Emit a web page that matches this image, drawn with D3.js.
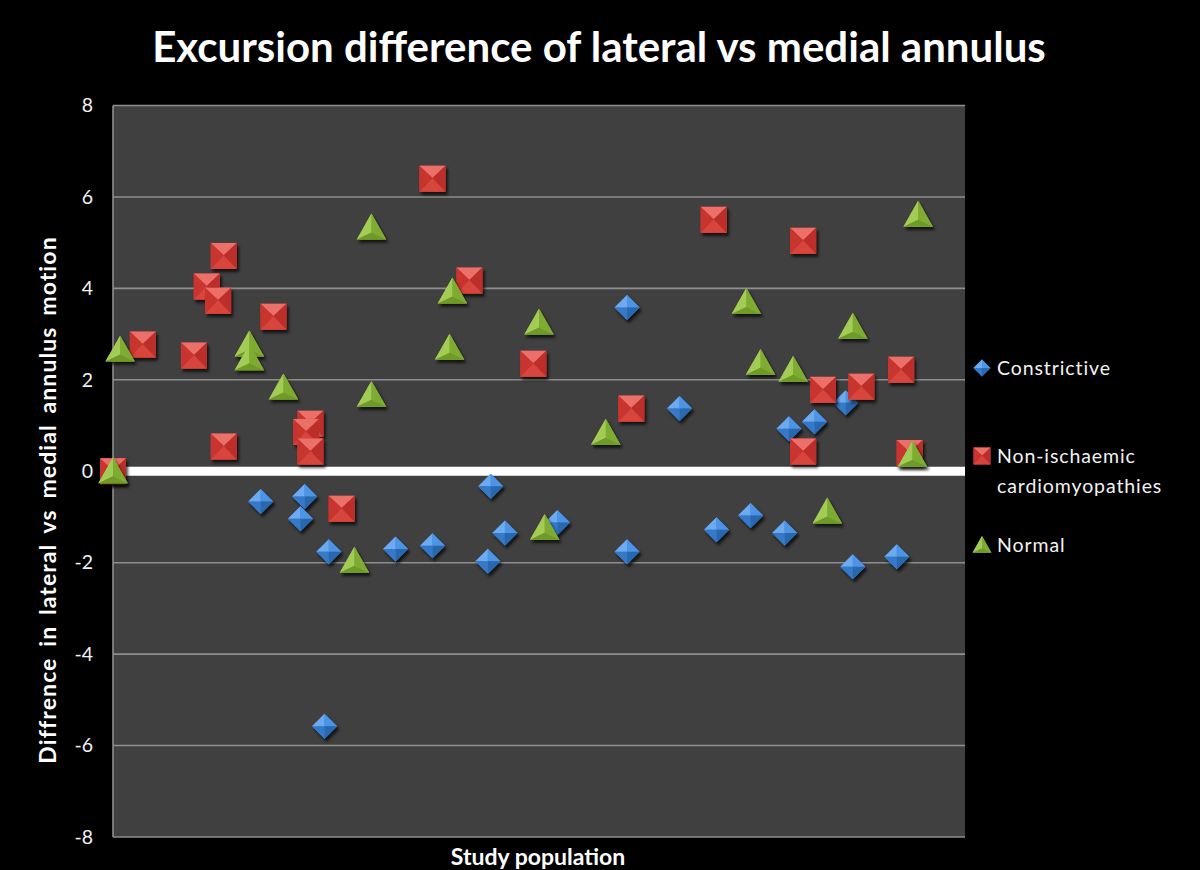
<!DOCTYPE html>
<html><head><meta charset="utf-8">
<script src="https://cdn.jsdelivr.net/npm/d3@7/dist/d3.min.js"></script>
<style>
html,body{margin:0;padding:0;background:#000;}
svg{display:block;}
</style></head>
<body>
<svg id="chart" width="1200" height="870"></svg>
<script>
// ---- Data (study population index, difference value) ----
const seriesNames = ["Constrictive", "Non-ischaemic cardiomyopathies", "Normal"];
const constrictiveX = [10.4,13.5,13.2,15.2,14.9,19.9,22.5,26.6,27.6,26.4,31.3,36.2,39.9,36.2,42.5,44.9,47.3,52.1,55.2,47.6,49.4,51.6];
const constrictiveY = [-0.66,-0.55,-1.04,-1.76,-5.58,-1.70,-1.63,-0.33,-1.35,-1.97,-1.12,3.58,1.37,-1.76,-1.28,-0.97,-1.35,-2.09,-1.87,0.93,1.08,1.50];
const nonIschX = [0,2.1,5.7,6.6,7.4,7.8,7.8,11.3,13.9,13.6,13.9,16.1,22.5,25.1,29.6,36.5,42.3,48.6,50.0,52.7,55.5,48.6,56.1];
const nonIschY = [0.0,2.77,2.53,4.04,3.73,4.71,0.54,3.38,1.04,0.86,0.43,-0.82,6.40,4.17,2.35,1.37,5.50,5.04,1.78,1.85,2.22,0.43,0.40];
const normalX = [0,0.5,9.6,9.6,12.0,18.2,18.2,17.0,23.9,23.7,30.0,30.4,34.7,44.6,45.6,47.9,52.1,50.3,56.7,56.3];
const normalY = [0.0,2.66,2.77,2.47,1.83,5.33,1.67,-1.96,3.93,2.70,3.25,-1.24,0.84,3.70,2.37,2.22,3.16,-0.88,5.61,0.36];
const yTicks = [-8,-6,-4,-2,0,2,4,6,8];
const titleText = "Excursion difference of lateral vs medial annulus";
const yTitle = "Diffrence in lateral vs medial annulus motion";
const xTitle = "Study population";

// ---- Layout ----
const svg = d3.select("#chart");
const plot = {left:113, right:965, top:105.5, bottom:837};
const x = d3.scaleLinear().domain([0,60]).range([plot.left, plot.right]);
const y = d3.scaleLinear().domain([-8,8]).range([plot.bottom, plot.top]);
const FONT = "Lato, 'Open Sans', 'Liberation Sans', sans-serif";

const defs = svg.append("defs");
const f = defs.append("filter").attr("id","shadow").attr("x","-50%").attr("y","-50%").attr("width","200%").attr("height","200%");
f.append("feDropShadow").attr("dx",2).attr("dy",3).attr("stdDeviation",1.8).attr("flood-color","#000").attr("flood-opacity",0.7);

svg.append("rect").attr("width",1200).attr("height",870).attr("fill","#000");

// plot area
svg.append("rect").attr("x",plot.left).attr("y",plot.top)
  .attr("width",plot.right-plot.left).attr("height",plot.bottom-plot.top)
  .attr("fill","#404040");

// gridlines
svg.append("g").selectAll("line").data(yTicks.filter(d=>d!==0)).join("line")
  .attr("x1",plot.left).attr("x2",plot.right)
  .attr("y1",d=>y(d)).attr("y2",d=>y(d))
  .attr("stroke","#8e8e8e").attr("stroke-width",1.6);

// left axis line
svg.append("line").attr("x1",plot.left).attr("x2",plot.left)
  .attr("y1",plot.top).attr("y2",plot.bottom)
  .attr("stroke","#8e8e8e").attr("stroke-width",1.6);

// zero line (horizontal axis)
svg.append("line").attr("x1",plot.left).attr("x2",plot.right)
  .attr("y1",y(0)).attr("y2",y(0))
  .attr("stroke","#ffffff").attr("stroke-width",9);

// y axis tick labels via d3 axis
const yAxis = d3.axisLeft(y).tickValues(yTicks).tickSize(0).tickPadding(0).tickFormat(d=>String(d));
const ga = svg.append("g").attr("transform",`translate(${plot.left-20},0)`).call(yAxis);
ga.select(".domain").remove();
ga.selectAll("text").attr("fill","#f2f2f2").attr("font-family",FONT).attr("font-size",19.5);

// title
svg.append("text").attr("x",599).attr("y",62).attr("text-anchor","middle")
  .attr("fill","#fff").attr("font-family",FONT).attr("font-weight","bold").attr("font-size",42)
  .text(titleText);

// axis titles
svg.append("text").attr("transform","translate(56,500) rotate(-90)").attr("text-anchor","middle")
  .attr("fill","#fff").attr("font-family",FONT).attr("font-weight","bold").attr("font-size",23)
  .attr("letter-spacing",1.1).attr("word-spacing",4)
  .text(yTitle);
svg.append("text").attr("x",538).attr("y",865).attr("text-anchor","middle")
  .attr("fill","#fff").attr("font-family",FONT).attr("font-weight","bold").attr("font-size",23)
  .text(xTitle);

// ---- marker drawing ----
function drawDiamond(g, s){
  const h = s/2;
  g.append("path").attr("d",`M0,${-h}L${h},0L0,${h}L${-h},0Z`).attr("fill","#3a82d6");
  g.append("path").attr("d",`M0,${-h}L0,0L${-h},0Z`).attr("fill","#6eaaf0");
  g.append("path").attr("d",`M0,${-h}L${h},0L0,0Z`).attr("fill","#4d94e6");
  g.append("path").attr("d",`M${-h},0L0,0L0,${h}Z`).attr("fill","#3479c8");
  g.append("path").attr("d",`M0,0L${h},0L0,${h}Z`).attr("fill","#2a67ad");
}
function drawSquare(g, s){
  const h = s/2;
  g.append("path").attr("d",`M${-h},${-h}H${h}V${h}H${-h}Z`).attr("fill","#d23b35");
  g.append("path").attr("d",`M${-h},${-h}H${h}L0,${-h*0.05}Z`).attr("fill","#ea6f69");
  g.append("path").attr("d",`M${-h},${h}H${h}L0,${-h*0.05}Z`).attr("fill","#d7443d");
  g.append("path").attr("d",`M${-h},${-h}L0,${-h*0.05}L${-h},${h}Z`).attr("fill","#c8342f");
  g.append("path").attr("d",`M${h},${-h}L0,${-h*0.05}L${h},${h}Z`).attr("fill","#bb2f2a");
}
function drawTriangle(g, s){
  const h = s/2;
  const top=[0,-h], bl=[-h*1.05,h*0.85], br=[h*1.05,h*0.85], c=[0,h*0.35];
  const P = pts => "M"+pts.map(p=>p.join(",")).join("L")+"Z";
  g.append("path").attr("d",P([top,br,bl])).attr("fill","#8cba3c");
  g.append("path").attr("d",P([top,c,bl])).attr("fill","#a2cc55");
  g.append("path").attr("d",P([top,br,c])).attr("fill","#7eab30");
  g.append("path").attr("d",P([bl,c,br])).attr("fill","#6f9a28");
}

const series = [
  {name:seriesNames[1], xs:nonIschX, ys:nonIschY, draw:drawSquare, size:26},
  {name:seriesNames[0], xs:constrictiveX, ys:constrictiveY, draw:drawDiamond, size:25},
  {name:seriesNames[2], xs:normalX, ys:normalY, draw:drawTriangle, size:28}
];
const order = [series[1], series[0], series[2]];
order.forEach(sr=>{
  const pts = sr.xs.map((v,i)=>({x:v, y:sr.ys[i]}));
  const g = svg.append("g").attr("filter","url(#shadow)");
  g.selectAll("g").data(pts).join("g")
    .attr("transform",d=>`translate(${x(d.x)},${y(d.y)})`)
    .each(function(){ sr.draw(d3.select(this), sr.size); });
});

// ---- legend ----
const legend = svg.append("g");
const legItems = [
  {draw:drawDiamond, size:17, my:368, lines:["Constrictive"], ty:375},
  {draw:drawSquare, size:17, my:456, lines:["Non-ischaemic","cardiomyopathies"], ty:463},
  {draw:drawTriangle, size:18, my:545, lines:["Normal"], ty:552}
];
legItems.forEach(it=>{
  const g = legend.append("g").attr("transform",`translate(982,${it.my})`);
  it.draw(g, it.size);
  const t = legend.append("text").attr("x",997).attr("y",it.ty)
    .attr("fill","#f2f2f2").attr("font-family",FONT).attr("font-size",19.5).attr("letter-spacing",0.9);
  it.lines.forEach((l,i)=>t.append("tspan").attr("x",997).attr("dy",i?30:0).text(l));
});
</script>
</body></html>
